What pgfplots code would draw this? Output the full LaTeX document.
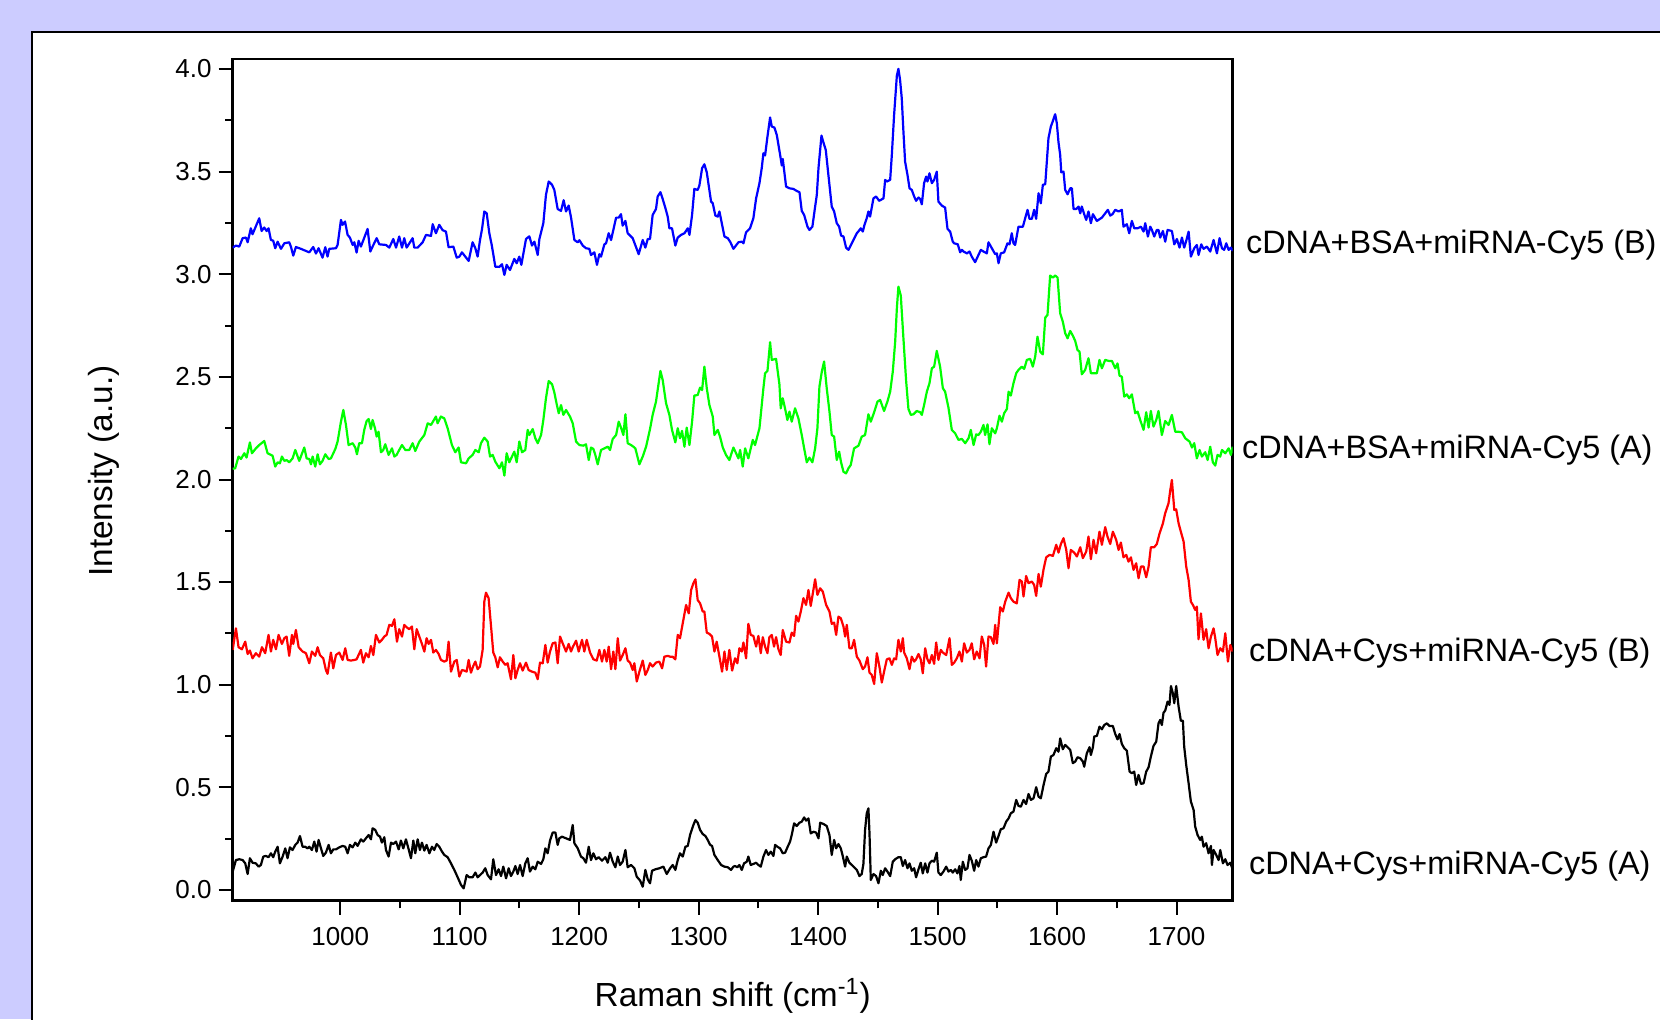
\documentclass[border=0pt]{standalone}
\usepackage{fontspec}
\setmainfont{Liberation Sans}
\usepackage{pgfplots}
\pgfplotsset{compat=1.18}
\definecolor{lavender}{RGB}{204,204,255}
\definecolor{cblue}{RGB}{0,0,255}
\definecolor{cgreen}{RGB}{0,255,0}
\definecolor{cred}{RGB}{255,0,0}

\begin{document}
\begin{tikzpicture}
\useasboundingbox (0,0) rectangle (830pt,509.5pt);
\clip (0,0) rectangle (830pt,509.5pt);
% page background and white panel
\fill[lavender] (0,0) rectangle (830pt,509.5pt);
\fill[white] (16.15pt,-2pt) rectangle (834pt,493.35pt);
\draw[line width=1pt] (16.15pt,-2pt) -- (16.15pt,493.35pt) -- (834pt,493.35pt);

\begin{axis}[
    scale only axis,
    width=500pt, height=420.85pt,
    at={(116.35pt,59.15pt)}, anchor=south west,
    xmin=910, xmax=1747,
    ymin=-0.052, ymax=4.049,
    clip mode=individual,
    axis line style={line width=1.3pt},
    every tick/.style={black, line width=1pt},
    tick align=outside,
    xtick pos=left, ytick pos=left,
    xtick={1000,1100,1200,1300,1400,1500,1600,1700},
    ytick={0,0.5,1,1.5,2,2.5,3,3.5,4},
    minor x tick num=1, minor y tick num=1,
    major tick length=7pt, minor tick length=3.8pt,
    tick label style={font=\fontsize{13pt}{15pt}\selectfont},
    /pgf/number format/assume math mode=true,
    xticklabel style={/pgf/number format/1000 sep={}, yshift=-3pt},
    yticklabel style={/pgf/number format/.cd, fixed, fixed zerofill, precision=1},
    xlabel={Raman shift (cm\textsuperscript{-1})},
    ylabel={Intensity (a.u.)},
    label style={font=\fontsize{16.7pt}{20pt}\selectfont},
    xlabel style={at={(axis description cs:0.5,-0.1132)}, anchor=center},
    ylabel style={at={(axis description cs:-0.1287,0.5105)}, anchor=center},
    every axis plot/.append style={line width=1.1pt, line join=round},
]

% cDNA+BSA+miRNA-Cy5 (B)
\addplot[cblue] coordinates {
(910,3.130) (912.7,3.140) (915.5,3.135) (918.3,3.176) (921.1,3.179) (922.5,3.156) (925.2,3.224) (926.6,3.195)
(932.2,3.273) (934.2,3.211) (936.4,3.228) (938.4,3.211) (940.0,3.224) (942.0,3.167) (943.9,3.164) (945.6,3.127)
(947.6,3.159) (950.4,3.124) (953.2,3.151) (957.3,3.156) (958.7,3.135) (960.7,3.091) (962.9,3.133) (967.1,3.124)
(974.1,3.107) (977.4,3.133) (979.7,3.101) (981.9,3.127) (985.2,3.081) (987.5,3.132) (989.4,3.086) (990.8,3.124)
(996.4,3.127) (997.8,3.143) (1000.6,3.265) (1002.0,3.241) (1004.0,3.257) (1006.2,3.192) (1008.1,3.179) (1010.4,3.143)
(1011.8,3.156) (1013.7,3.106) (1015.4,3.163) (1017.3,3.135) (1022.9,3.221) (1025.2,3.111) (1027.1,3.135) (1030.5,3.176)
(1032.7,3.146) (1038.3,3.143) (1041.1,3.130) (1044.4,3.172) (1046.7,3.130) (1049.4,3.184) (1051.7,3.130) (1053.6,3.176)
(1055.6,3.130) (1060.6,3.176) (1062.0,3.130) (1064.8,3.130) (1069.0,3.156) (1071.8,3.192) (1076.0,3.187) (1077.4,3.244)
(1080.1,3.200) (1082.9,3.241) (1085.7,3.215) (1088.5,3.208) (1090.7,3.132) (1094.7,3.135) (1097.5,3.081) (1099.7,3.086)
(1101.9,3.107) (1107.5,3.065) (1110.8,3.156) (1113.1,3.127) (1115.0,3.086) (1117.0,3.167) (1118.7,3.221) (1120.6,3.306)
(1122.6,3.297) (1124.8,3.200) (1126.8,3.143) (1128.1,3.098) (1129.8,3.037) (1133.2,3.036) (1135.4,3.049) (1137.4,2.997)
(1139.3,3.046) (1142.1,3.021) (1145.7,3.075) (1147.7,3.054) (1149.9,3.086) (1151.6,3.046) (1155.5,3.172) (1158.3,3.185)
(1160.5,3.140) (1162.5,3.159) (1165.3,3.094) (1166.7,3.172) (1170.0,3.249) (1172.2,3.387) (1174.5,3.452) (1177.3,3.436)
(1179.2,3.411) (1182.0,3.318) (1184.8,3.309) (1187.0,3.361) (1189.0,3.306) (1191.2,3.335) (1193.2,3.276) (1196.0,3.167)
(1198.8,3.156) (1200.2,3.166) (1203.0,3.140) (1205.7,3.127) (1208.5,3.124) (1209.9,3.094) (1212.7,3.107) (1214.9,3.046)
(1216.9,3.098) (1218.3,3.086) (1221.1,3.146) (1222.5,3.151) (1224.7,3.200) (1226.7,3.167) (1230.9,3.276) (1233.1,3.276)
(1235.0,3.293) (1236.4,3.237) (1238.7,3.260) (1240.6,3.200) (1244.8,3.176) (1249.8,3.098) (1253.2,3.167) (1255.4,3.130)
(1257.4,3.172) (1259.3,3.172) (1261.5,3.289) (1264.3,3.318) (1265.7,3.379) (1268.0,3.400) (1269.9,3.367) (1272.2,3.322)
(1274.1,3.281) (1275.5,3.224) (1277.7,3.224) (1280.5,3.140) (1282.5,3.179) (1285.3,3.192) (1288.1,3.200) (1290.9,3.224)
(1292.3,3.192) (1294.5,3.289) (1296.4,3.416) (1299.2,3.411) (1300.6,3.432) (1302.9,3.517) (1304.8,3.536) (1306.8,3.497)
(1310.4,3.354) (1311.8,3.346) (1314.0,3.286) (1316.0,3.281) (1317.4,3.306) (1321.6,3.184) (1324.4,3.176) (1326.6,3.156)
(1329.1,3.124) (1333.3,3.156) (1336.1,3.159) (1337.5,3.151) (1339.7,3.205) (1343.0,3.224) (1345.8,3.273) (1348.1,3.370)
(1350.9,3.444) (1352.8,3.517) (1354.2,3.590) (1355.6,3.579) (1357.6,3.671) (1359.8,3.764) (1361.2,3.720) (1363.4,3.715)
(1365.4,3.679) (1368.2,3.582) (1369.6,3.530) (1370.4,3.562) (1373.2,3.427) (1376.0,3.419) (1379.3,3.416) (1382.1,3.406)
(1384.4,3.400) (1386.3,3.309) (1388.3,3.289) (1391.1,3.232) (1392.7,3.216) (1395.2,3.232) (1397.5,3.330) (1398.9,3.387)
(1400.3,3.517) (1402.8,3.676) (1404.4,3.643) (1406.4,3.606) (1408.6,3.484) (1411.4,3.330) (1413.4,3.306) (1415.6,3.249)
(1417.6,3.232) (1419.2,3.189) (1421.2,3.184) (1423.4,3.130) (1425.4,3.119) (1428.2,3.151) (1432.4,3.200) (1434.0,3.211)
(1435.7,3.224) (1437.4,3.208) (1438.8,3.241) (1440.7,3.273) (1442.1,3.306) (1443.5,3.281) (1446.3,3.370) (1448.5,3.379)
(1451.1,3.358) (1454.7,3.370) (1456.1,3.460) (1457.5,3.452) (1460.3,3.460) (1461.7,3.582) (1463.6,3.777) (1465.9,3.968)
(1467.2,4.001) (1468.6,3.947) (1470.0,3.858) (1471.4,3.695) (1472.8,3.549) (1474.8,3.484) (1476.5,3.419) (1478.4,3.411)
(1480.4,3.379) (1482.0,3.358) (1484.0,3.374) (1485.4,3.367) (1486.8,3.341) (1488.7,3.444) (1490.4,3.476) (1491.5,3.452)
(1493.2,3.492) (1495.2,3.444) (1497.1,3.460) (1499.3,3.500) (1500.7,3.354) (1503.5,3.335) (1506.3,3.325) (1508.3,3.221)
(1510.5,3.208) (1512.7,3.159) (1513.9,3.151) (1516.9,3.146) (1518.9,3.107) (1520.3,3.119) (1521.7,3.111) (1524.5,3.102)
(1526.7,3.111) (1528.6,3.086) (1531.4,3.059) (1534.2,3.094) (1536.2,3.119) (1538.4,3.111) (1541.2,3.102) (1542.6,3.156)
(1545.4,3.127) (1548.2,3.098) (1549.6,3.102) (1551.0,3.054) (1552.9,3.102) (1555.7,3.107) (1558.5,3.151) (1560.2,3.146)
(1562.1,3.200) (1563.5,3.151) (1564.9,3.143) (1567.7,3.232) (1571.4,3.232) (1573.3,3.273) (1575.3,3.314) (1576.9,3.270)
(1578.9,3.270) (1580.8,3.314) (1582.5,3.270) (1584.5,3.395) (1586.4,3.346) (1588.1,3.436) (1590.1,3.439) (1592.8,3.663)
(1594.8,3.720) (1596.5,3.747) (1598.4,3.780) (1599.8,3.736) (1601.2,3.643) (1602.6,3.582) (1603.5,3.497) (1605.4,3.500)
(1606.8,3.411) (1608.8,3.390) (1611.0,3.419) (1612.4,3.419) (1613.8,3.318) (1616.0,3.318) (1618.0,3.330) (1619.4,3.297)
(1620.7,3.330) (1622.7,3.293) (1624.4,3.265) (1626.3,3.306) (1628.3,3.249) (1630.0,3.293) (1633.3,3.260) (1637.5,3.276)
(1640.3,3.297) (1642.5,3.314) (1644.5,3.286) (1646.4,3.293) (1648.7,3.314) (1651.5,3.306) (1654.2,3.314) (1655.6,3.232)
(1658.4,3.244) (1660.4,3.200) (1662.6,3.260) (1664.6,3.224) (1667.4,3.224) (1670.2,3.232) (1672.4,3.208) (1673.8,3.249)
(1676.0,3.184) (1678.0,3.232) (1679.4,3.216) (1681.3,3.184) (1683.5,3.216) (1684.9,3.216) (1686.3,3.179) (1688.6,3.211)
(1690.5,3.159) (1692.5,3.216) (1696.1,3.211) (1698.1,3.146) (1700.3,3.172) (1702.5,3.130) (1704.5,3.179) (1706.4,3.130)
(1708.1,3.163) (1710.1,3.208) (1712.0,3.086) (1714.8,3.127) (1717.0,3.143) (1718.4,3.094) (1720.7,3.146) (1722.6,3.124)
(1725.4,3.135) (1728.2,3.111) (1731.0,3.167) (1733.8,3.102) (1736.0,3.176) (1738.0,3.127) (1739.9,3.119) (1741.6,3.151)
(1743.6,3.119) (1745.5,3.130) (1747.0,3.114)
};

% cDNA+BSA+miRNA-Cy5 (A)
\addplot[cgreen] coordinates {
(910,2.052) (912.1,2.055) (914.9,2.112) (916.9,2.100) (919.7,2.128) (921.6,2.107) (924.4,2.181) (926.1,2.128)
(929.4,2.152) (932.2,2.168) (936.4,2.188) (939.2,2.128) (942.0,2.120) (943.4,2.116) (945.6,2.063) (947.6,2.084)
(949.5,2.079) (951.2,2.112) (953.2,2.091) (955.1,2.095) (957.3,2.084) (960.1,2.103) (962.4,2.144) (965.7,2.091)
(969.9,2.156) (971.9,2.103) (974.1,2.100) (975.5,2.074) (976.9,2.112) (979.1,2.063) (981.1,2.123) (983.0,2.074)
(985.2,2.091) (987.5,2.123) (990.3,2.100) (992.2,2.103) (995.9,2.149) (997.8,2.185) (1000.6,2.282) (1002.6,2.339)
(1004.8,2.266) (1007.0,2.168) (1010.4,2.177) (1012.6,2.156) (1014.0,2.123) (1015.9,2.177) (1018.2,2.177) (1020.1,2.242)
(1022.1,2.285) (1023.8,2.295) (1025.7,2.246) (1027.1,2.290) (1029.1,2.250) (1030.5,2.209) (1032.1,2.233) (1034.1,2.133)
(1036.0,2.144) (1037.7,2.172) (1040.5,2.120) (1043.3,2.152) (1045.3,2.112) (1047.2,2.120) (1048.9,2.139) (1051.7,2.168)
(1054.5,2.144) (1057.8,2.144) (1060.6,2.177) (1062.8,2.139) (1066.2,2.185) (1070.4,2.217) (1073.2,2.274) (1076.0,2.266)
(1077.9,2.285) (1080.1,2.307) (1081.5,2.274) (1084.3,2.307) (1087.1,2.298) (1089.9,2.250) (1093.5,2.168) (1096.3,2.133)
(1099.1,2.156) (1101.1,2.084) (1105.3,2.079) (1107.5,2.103) (1110.8,2.120) (1113.1,2.144) (1115.9,2.133) (1117.8,2.177)
(1120.6,2.204) (1123.4,2.185) (1125.4,2.112) (1127.6,2.120) (1129.8,2.087) (1133.2,2.055) (1135.4,2.084) (1137.4,2.019)
(1139.3,2.128) (1141.5,2.084) (1145.7,2.136) (1147.7,2.084) (1149.9,2.185) (1152.2,2.133) (1154.9,2.144) (1156.9,2.242)
(1158.3,2.217) (1161.1,2.246) (1163.3,2.201) (1165.3,2.177) (1168.1,2.217) (1170.0,2.290) (1172.2,2.396) (1174.5,2.480)
(1177.3,2.464) (1179.2,2.425) (1181.2,2.367) (1182.9,2.323) (1184.8,2.363) (1186.8,2.315) (1189.0,2.339) (1192.3,2.307)
(1194.6,2.274) (1197.4,2.185) (1200.2,2.168) (1203.5,2.165) (1205.7,2.172) (1208.0,2.095) (1209.9,2.156) (1211.9,2.149)
(1213.5,2.120) (1215.5,2.074) (1218.3,2.144) (1221.1,2.152) (1223.9,2.160) (1225.8,2.144) (1228.1,2.198) (1230.9,2.217)
(1233.1,2.282) (1235.0,2.253) (1237.0,2.217) (1238.7,2.318) (1240.6,2.177) (1243.4,2.168) (1245.4,2.160) (1247.0,2.152)
(1250.4,2.074) (1253.2,2.112) (1256.0,2.160) (1259.3,2.246) (1261.5,2.315) (1264.3,2.380) (1268.0,2.529) (1269.9,2.485)
(1272.7,2.372) (1275.5,2.315) (1277.7,2.242) (1280.5,2.181) (1282.5,2.250) (1284.4,2.201) (1286.1,2.237) (1288.1,2.160)
(1290.0,2.253) (1292.3,2.168) (1294.5,2.282) (1296.4,2.409) (1299.2,2.412) (1301.2,2.448) (1302.9,2.436) (1304.8,2.550)
(1306.8,2.445) (1309.0,2.363) (1311.8,2.307) (1313.2,2.217) (1316.0,2.242) (1317.9,2.209) (1320.2,2.156) (1322.9,2.120)
(1325.7,2.095) (1329.1,2.156) (1333.3,2.103) (1334.7,2.144) (1336.9,2.063) (1338.9,2.152) (1341.6,2.103) (1345.3,2.193)
(1347.2,2.168) (1350.9,2.250) (1354.2,2.445) (1355.6,2.518) (1357.6,2.529) (1359.8,2.669) (1361.2,2.583) (1364.8,2.588)
(1367.6,2.464) (1368.7,2.347) (1370.4,2.396) (1372.4,2.344) (1374.3,2.290) (1376.0,2.331) (1377.9,2.282) (1380.7,2.347)
(1383.5,2.298) (1386.3,2.217) (1388.3,2.152) (1390.5,2.084) (1392.7,2.107) (1395.2,2.084) (1397.5,2.152) (1399.4,2.250)
(1401.1,2.453) (1403.1,2.526) (1405.0,2.575) (1407.2,2.445) (1409.5,2.331) (1411.4,2.217) (1413.4,2.209) (1415.6,2.095)
(1417.6,2.136) (1419.2,2.084) (1421.2,2.038) (1423.4,2.030) (1425.4,2.055) (1427.3,2.071) (1430.1,2.152) (1433.8,2.165)
(1436.5,2.209) (1439.3,2.217) (1442.1,2.318) (1444.1,2.282) (1446.9,2.328) (1449.7,2.380) (1451.9,2.388) (1455.2,2.334)
(1458.0,2.380) (1460.3,2.428) (1462.5,2.526) (1464.5,2.672) (1465.9,2.834) (1467.2,2.940) (1469.2,2.896) (1471.4,2.688)
(1473.7,2.477) (1475.6,2.344) (1477.6,2.315) (1479.8,2.318) (1482.6,2.334) (1485.4,2.328) (1486.8,2.315) (1488.7,2.363)
(1491.0,2.428) (1493.2,2.469) (1495.2,2.542) (1497.1,2.550) (1499.3,2.627) (1502.1,2.550) (1504.4,2.445) (1506.3,2.428)
(1509.1,2.350) (1511.9,2.242) (1514.7,2.225) (1517.5,2.193) (1520.3,2.198) (1523.1,2.177) (1525.9,2.201) (1527.8,2.242)
(1530.1,2.168) (1532.3,2.220) (1534.2,2.217) (1536.2,2.233) (1538.4,2.266) (1539.8,2.217) (1541.8,2.269) (1543.4,2.172)
(1545.4,2.250) (1548.2,2.225) (1549.6,2.250) (1551.8,2.311) (1553.8,2.282) (1555.7,2.323) (1558.0,2.344) (1559.4,2.428)
(1561.3,2.409) (1563.5,2.469) (1565.8,2.518) (1567.7,2.534) (1570.5,2.550) (1572.5,2.539) (1574.7,2.583) (1577.5,2.588)
(1579.7,2.550) (1581.7,2.599) (1583.6,2.696) (1585.9,2.623) (1588.1,2.610) (1590.1,2.789) (1592.0,2.802) (1594.2,2.994)
(1596.5,2.984) (1598.4,2.994) (1600.4,2.984) (1602.6,2.810) (1604.8,2.769) (1606.8,2.713) (1608.8,2.688) (1611.0,2.724)
(1613.2,2.701) (1615.2,2.675) (1617.1,2.631) (1618.8,2.623) (1620.7,2.513) (1623.5,2.534) (1626.3,2.591) (1628.3,2.518)
(1630.5,2.518) (1633.3,2.518) (1635.5,2.583) (1637.5,2.542) (1640.3,2.583) (1643.1,2.578) (1645.9,2.578) (1648.7,2.542)
(1650.6,2.566) (1652.3,2.506) (1654.2,2.501) (1656.2,2.404) (1658.4,2.415) (1660.4,2.396) (1662.6,2.415) (1665.4,2.323)
(1667.4,2.331) (1669.6,2.290) (1672.4,2.242) (1674.6,2.328) (1676.6,2.253) (1678.5,2.334) (1680.7,2.258) (1683.0,2.290)
(1684.9,2.334) (1687.7,2.217) (1690.5,2.285) (1693.3,2.266) (1696.1,2.315) (1698.9,2.233) (1701.7,2.233) (1704.5,2.230)
(1707.3,2.201) (1710.9,2.185) (1712.9,2.156) (1714.8,2.177) (1717.0,2.103) (1719.3,2.144) (1721.2,2.112) (1724.0,2.133)
(1726.0,2.095) (1728.2,2.160) (1730.4,2.084) (1732.4,2.068) (1734.3,2.120) (1736.6,2.112) (1738.0,2.144) (1740.8,2.128)
(1743.6,2.152) (1745.5,2.120) (1747.0,2.160)
};

% cDNA+Cys+miRNA-Cy5 (B)
\addplot[cred] coordinates {
(910,1.170) (912.7,1.275) (914.9,1.183) (917.7,1.173) (920.5,1.210) (922.5,1.150) (924.4,1.167) (926.6,1.129)
(929.4,1.154) (932.2,1.137) (934.5,1.183) (937.2,1.154) (940.0,1.243) (942.0,1.162) (943.9,1.219) (946.2,1.173)
(948.4,1.243) (951.2,1.199) (953.2,1.227) (955.1,1.235) (957.3,1.141) (959.6,1.243) (960.7,1.199) (962.9,1.267)
(965.2,1.183) (968.5,1.162) (971.3,1.154) (974.1,1.105) (976.3,1.162) (979.1,1.141) (981.1,1.183) (983.0,1.145)
(985.8,1.129) (988.0,1.072) (989.4,1.053) (992.2,1.157) (994.2,1.080) (996.4,1.145) (999.2,1.157) (1002.0,1.121)
(1004.2,1.178) (1006.2,1.121) (1009.0,1.118) (1011.8,1.121) (1013.7,1.124) (1017.3,1.170) (1019.3,1.108) (1021.5,1.154)
(1023.8,1.134) (1025.7,1.189) (1027.7,1.145) (1029.9,1.243) (1032.7,1.206) (1034.9,1.219) (1036.9,1.235) (1038.8,1.243)
(1041.1,1.292) (1043.3,1.287) (1045.3,1.319) (1047.5,1.210) (1049.4,1.271) (1051.7,1.235) (1053.6,1.292) (1055.6,1.280)
(1057.8,1.271) (1060.0,1.284) (1062.0,1.173) (1064.0,1.271) (1066.2,1.235) (1068.4,1.199) (1070.4,1.162) (1072.3,1.227)
(1074.0,1.199) (1076.0,1.219) (1077.9,1.157) (1080.1,1.170) (1082.4,1.150) (1084.3,1.121) (1087.1,1.113) (1089.1,1.118)
(1090.7,1.210) (1092.7,1.064) (1095.5,1.113) (1097.5,1.121) (1099.7,1.040) (1101.9,1.072) (1103.9,1.069) (1105.8,1.064)
(1107.5,1.121) (1109.4,1.059) (1111.4,1.092) (1113.1,1.113) (1115.0,1.076) (1117.0,1.089) (1119.2,1.170) (1120.6,1.405)
(1122.0,1.449) (1124.2,1.422) (1126.2,1.287) (1128.1,1.157) (1129.8,1.134) (1131.8,1.085) (1133.7,1.134) (1136.0,1.113)
(1138.2,1.097) (1140.1,1.105) (1142.9,1.027) (1144.9,1.145) (1146.6,1.032) (1148.5,1.072) (1150.5,1.105) (1152.7,1.069)
(1155.5,1.108) (1157.7,1.072) (1160.5,1.064) (1163.3,1.059) (1165.3,1.027) (1167.2,1.108) (1169.5,1.105) (1171.7,1.194)
(1173.6,1.108) (1175.6,1.162) (1177.8,1.202) (1180.1,1.206) (1182.0,1.105) (1184.0,1.235) (1186.2,1.202) (1189.0,1.162)
(1191.2,1.199) (1193.2,1.162) (1194.6,1.183) (1197.4,1.215) (1199.6,1.162) (1202.4,1.219) (1204.3,1.162) (1206.3,1.219)
(1209.1,1.157) (1211.9,1.124) (1214.7,1.118) (1216.9,1.170) (1219.1,1.113) (1221.1,1.170) (1223.0,1.113) (1224.7,1.186)
(1226.7,1.076) (1228.6,1.162) (1230.3,1.076) (1232.3,1.227) (1234.2,1.118) (1236.4,1.145) (1238.7,1.178) (1240.6,1.118)
(1242.6,1.108) (1244.8,1.072) (1246.2,1.105) (1248.2,1.016) (1250.4,1.064) (1253.2,1.118) (1255.4,1.048) (1257.4,1.072)
(1259.3,1.105) (1261.5,1.089) (1264.3,1.108) (1267.1,1.113) (1269.4,1.080) (1271.3,1.137) (1274.1,1.141) (1276.1,1.137)
(1278.3,1.137) (1280.5,1.124) (1282.5,1.243) (1284.4,1.227) (1287.2,1.316) (1289.5,1.389) (1291.7,1.348) (1293.7,1.462)
(1295.6,1.495) (1297.3,1.514) (1299.2,1.413) (1301.2,1.397) (1303.4,1.357) (1304.8,1.357) (1306.8,1.254) (1309.0,1.248)
(1311.2,1.235) (1313.2,1.162) (1315.1,1.210) (1317.4,1.137) (1319.6,1.064) (1321.6,1.162) (1323.5,1.072) (1325.7,1.170)
(1328.0,1.069) (1330.5,1.129) (1332.4,1.105) (1334.1,1.178) (1336.1,1.162) (1337.5,1.206) (1339.7,1.129) (1341.6,1.297)
(1343.6,1.243) (1345.8,1.238) (1348.1,1.186) (1350.0,1.238) (1352.0,1.154) (1353.7,1.232) (1355.6,1.186) (1357.6,1.154)
(1359.2,1.232) (1361.2,1.243) (1363.1,1.186) (1364.8,1.232) (1366.8,1.173) (1368.7,1.145) (1370.4,1.267) (1373.2,1.210)
(1376.0,1.206) (1377.9,1.254) (1379.9,1.238) (1381.6,1.336) (1383.5,1.308) (1385.5,1.357) (1387.7,1.422) (1389.9,1.389)
(1391.9,1.462) (1393.8,1.384) (1395.5,1.443) (1397.5,1.514) (1399.4,1.438) (1401.7,1.470) (1403.9,1.454) (1406.7,1.389)
(1409.5,1.357) (1411.4,1.297) (1413.4,1.303) (1415.1,1.243) (1417.0,1.332) (1419.0,1.324) (1421.2,1.284) (1422.6,1.235)
(1424.0,1.292) (1426.2,1.178) (1428.2,1.178) (1430.1,1.219) (1432.4,1.137) (1434.6,1.118) (1437.4,1.076) (1439.3,1.089)
(1441.3,1.134) (1443.0,1.059) (1444.9,1.048) (1446.9,1.004) (1449.1,1.154) (1451.3,1.089) (1453.3,1.011) (1455.2,1.064)
(1457.5,1.124) (1459.7,1.129) (1461.7,1.097) (1463.6,1.129) (1465.3,1.124) (1467.2,1.219) (1469.2,1.162) (1470.9,1.227)
(1472.0,1.157) (1474.2,1.129) (1476.5,1.076) (1478.4,1.137) (1480.4,1.113) (1482.0,1.124) (1484.0,1.150) (1485.9,1.124)
(1487.6,1.056) (1489.6,1.178) (1491.5,1.124) (1493.2,1.105) (1495.2,1.145) (1497.1,1.102) (1498.8,1.206) (1500.7,1.121)
(1502.7,1.170) (1504.4,1.157) (1507.2,1.145) (1510.0,1.227) (1511.9,1.097) (1513.9,1.108) (1516.1,1.129) (1518.3,1.162)
(1520.3,1.113) (1522.2,1.202) (1524.5,1.157) (1526.7,1.170) (1528.6,1.202) (1530.6,1.124) (1532.8,1.162) (1535.1,1.129)
(1537.0,1.235) (1539.0,1.194) (1540.6,1.089) (1542.6,1.235) (1544.6,1.232) (1546.8,1.199) (1548.2,1.292) (1549.6,1.202)
(1552.4,1.378) (1554.6,1.357) (1556.6,1.405) (1559.4,1.449) (1561.3,1.422) (1563.5,1.405) (1566.3,1.397) (1568.6,1.511)
(1570.5,1.503) (1571.9,1.430) (1574.1,1.530) (1576.1,1.495) (1578.9,1.503) (1580.8,1.487) (1582.5,1.433) (1584.5,1.540)
(1586.4,1.478) (1588.7,1.563) (1590.9,1.621) (1593.7,1.633) (1596.5,1.628) (1599.3,1.682) (1601.2,1.644) (1603.2,1.686)
(1605.4,1.714) (1607.6,1.660) (1609.6,1.568) (1611.5,1.657) (1614.3,1.644) (1616.6,1.625) (1619.4,1.670) (1621.6,1.617)
(1624.4,1.649) (1626.3,1.722) (1628.3,1.612) (1630.5,1.706) (1632.7,1.641) (1635.5,1.746) (1637.5,1.682) (1640.3,1.768)
(1642.2,1.722) (1644.5,1.686) (1646.7,1.746) (1649.5,1.706) (1651.5,1.657) (1653.4,1.693) (1655.6,1.621) (1657.9,1.633)
(1659.8,1.600) (1661.8,1.621) (1664.0,1.560) (1666.2,1.592) (1668.2,1.519) (1670.2,1.576) (1672.4,1.576) (1674.6,1.524)
(1676.6,1.576) (1678.5,1.670) (1681.3,1.670) (1683.5,1.686) (1685.8,1.738) (1688.6,1.787) (1690.5,1.836) (1693.3,1.885)
(1694.7,1.946) (1696.1,1.998) (1698.1,1.852) (1699.7,1.855) (1701.7,1.787) (1703.6,1.746) (1705.9,1.698) (1708.1,1.576)
(1710.1,1.511) (1712.0,1.405) (1713.7,1.389) (1715.6,1.365) (1717.0,1.381) (1718.4,1.222) (1720.4,1.348) (1722.6,1.219)
(1724.8,1.271) (1726.8,1.178) (1728.8,1.235) (1731.0,1.275) (1732.4,1.227) (1734.3,1.145) (1736.6,1.178) (1738.8,1.162)
(1740.8,1.251) (1743.0,1.113) (1745.0,1.194) (1747.0,1.162)
};

% cDNA+Cys+miRNA-Cy5 (A)
\addplot[black] coordinates {
(910,0.090) (912.7,0.146) (915.5,0.150) (918.3,0.146) (920.5,0.130) (922.5,0.078) (924.4,0.155) (926.6,0.133)
(929.4,0.130) (931.7,0.114) (933.6,0.122) (935.6,0.163) (937.8,0.166) (940.0,0.160) (942.0,0.179) (943.9,0.160)
(945.6,0.187) (947.6,0.211) (949.5,0.130) (951.8,0.163) (954.0,0.203) (955.9,0.155) (957.9,0.208) (960.1,0.195)
(962.4,0.220) (964.3,0.231) (966.3,0.263) (968.5,0.211) (970.7,0.211) (972.7,0.203) (974.1,0.211) (976.3,0.195)
(978.3,0.236) (980.2,0.187) (981.9,0.244) (983.9,0.203) (985.8,0.166) (988.0,0.182) (990.3,0.220) (992.2,0.179)
(994.2,0.198) (996.4,0.198) (999.2,0.208) (1002.0,0.215) (1004.2,0.211) (1006.2,0.179) (1008.1,0.220) (1010.4,0.208)
(1012.6,0.231) (1014.6,0.215) (1017.3,0.247) (1019.3,0.236) (1021.5,0.252) (1023.8,0.268) (1025.7,0.247) (1027.1,0.301)
(1029.3,0.293) (1031.3,0.268) (1033.3,0.260) (1034.9,0.231) (1036.9,0.257) (1038.3,0.195) (1040.5,0.163) (1042.5,0.231)
(1044.4,0.224) (1046.7,0.236) (1048.9,0.198) (1050.8,0.241) (1052.8,0.203) (1055.0,0.247) (1057.3,0.198) (1059.2,0.155)
(1061.2,0.241) (1062.8,0.179) (1064.8,0.247) (1066.7,0.195) (1068.4,0.231) (1070.4,0.192) (1072.3,0.220) (1074.6,0.179)
(1076.8,0.211) (1078.7,0.195) (1080.7,0.224) (1082.9,0.211) (1085.2,0.187) (1087.1,0.171) (1089.9,0.160) (1092.7,0.130)
(1095.5,0.098) (1098.3,0.062) (1101.1,0.025) (1103.3,0.008) (1105.8,0.073) (1108.1,0.062) (1110.8,0.062) (1113.1,0.085)
(1115.0,0.062) (1117.0,0.073) (1119.2,0.085) (1121.4,0.106) (1123.4,0.073) (1126.2,0.052) (1128.1,0.150) (1130.4,0.073)
(1132.6,0.101) (1134.6,0.068) (1136.5,0.114) (1138.8,0.057) (1141.0,0.106) (1142.9,0.068) (1144.9,0.090) (1146.6,0.117)
(1148.5,0.078) (1150.5,0.122) (1152.7,0.068) (1154.9,0.130) (1156.9,0.155) (1158.8,0.090) (1161.1,0.114) (1163.3,0.101)
(1165.3,0.138) (1168.1,0.127) (1170.0,0.150) (1171.7,0.203) (1173.6,0.179) (1175.6,0.241) (1177.8,0.280) (1180.1,0.280)
(1182.0,0.220) (1183.4,0.252) (1185.6,0.260) (1189.0,0.252) (1192.3,0.244) (1194.6,0.317) (1196.0,0.228) (1198.8,0.203)
(1201.5,0.163) (1203.5,0.155) (1205.7,0.133) (1208.0,0.211) (1209.9,0.146) (1211.9,0.179) (1214.1,0.150) (1216.3,0.160)
(1219.1,0.143) (1221.9,0.160) (1223.9,0.133) (1225.8,0.182) (1228.1,0.138) (1230.3,0.111) (1232.3,0.163) (1234.2,0.122)
(1236.4,0.138) (1238.7,0.195) (1240.6,0.111) (1243.4,0.122) (1246.2,0.106) (1248.2,0.065) (1251.0,0.046) (1253.2,0.016)
(1255.4,0.098) (1257.4,0.052) (1259.3,0.033) (1261.0,0.094) (1263.8,0.101) (1267.1,0.106) (1270.5,0.114) (1273.3,0.078)
(1276.1,0.106) (1278.3,0.122) (1280.5,0.098) (1282.5,0.146) (1284.4,0.179) (1286.7,0.163) (1288.9,0.211) (1290.9,0.215)
(1292.8,0.268) (1295.6,0.317) (1297.3,0.341) (1299.2,0.328) (1301.2,0.293) (1303.4,0.273) (1305.7,0.263) (1307.6,0.244)
(1309.6,0.220) (1311.2,0.215) (1313.2,0.171) (1316.0,0.146) (1318.8,0.122) (1321.6,0.114) (1324.4,0.111) (1327.1,0.098)
(1329.1,0.114) (1330.5,0.117) (1332.4,0.111) (1334.1,0.122) (1336.1,0.098) (1338.0,0.130) (1340.3,0.138) (1341.6,0.163)
(1343.6,0.122) (1345.8,0.127) (1348.1,0.133) (1350.0,0.122) (1352.0,0.114) (1354.2,0.163) (1356.4,0.195) (1358.4,0.171)
(1360.4,0.187) (1362.6,0.166) (1364.0,0.220) (1365.9,0.211) (1368.2,0.203) (1370.4,0.179) (1372.4,0.182) (1374.3,0.208)
(1376.5,0.236) (1377.9,0.268) (1379.9,0.325) (1382.1,0.312) (1384.4,0.328) (1386.3,0.333) (1388.3,0.354) (1389.9,0.338)
(1391.9,0.349) (1393.8,0.276) (1396.1,0.284) (1398.3,0.280) (1400.3,0.252) (1401.7,0.328) (1404.4,0.322) (1407.2,0.312)
(1409.5,0.268) (1411.4,0.171) (1413.4,0.244) (1415.1,0.203) (1417.0,0.224) (1419.0,0.203) (1420.6,0.166) (1422.6,0.114)
(1424.0,0.163) (1426.2,0.133) (1428.2,0.122) (1430.1,0.111) (1432.4,0.098) (1434.6,0.068) (1436.5,0.078) (1437.9,0.127)
(1439.3,0.293) (1440.7,0.374) (1442.1,0.398) (1443.0,0.276) (1444.1,0.049) (1446.3,0.078) (1448.5,0.068) (1450.5,0.033)
(1452.5,0.094) (1454.1,0.073) (1456.1,0.106) (1458.0,0.090) (1460.3,0.068) (1462.5,0.138) (1464.5,0.150) (1467.2,0.160)
(1469.2,0.160) (1470.9,0.117) (1472.8,0.146) (1474.8,0.106) (1476.5,0.130) (1478.4,0.094) (1480.4,0.106) (1482.0,0.062)
(1484.0,0.101) (1485.9,0.133) (1487.6,0.081) (1489.6,0.130) (1491.5,0.085) (1493.2,0.130) (1495.2,0.143) (1497.1,0.138)
(1499.3,0.182) (1500.7,0.085) (1502.7,0.073) (1504.9,0.090) (1507.2,0.114) (1509.1,0.090) (1511.1,0.098) (1512.7,0.085)
(1514.7,0.101) (1516.6,0.081) (1518.3,0.117) (1519.4,0.049) (1521.1,0.138) (1523.1,0.098) (1525.0,0.106) (1526.7,0.171)
(1528.6,0.143) (1530.6,0.094) (1532.3,0.146) (1534.2,0.114) (1536.2,0.155) (1538.4,0.160) (1540.6,0.163) (1542.6,0.203)
(1544.6,0.220) (1546.8,0.284) (1549.0,0.231) (1551.0,0.263) (1552.9,0.296) (1555.2,0.301) (1557.4,0.333) (1559.4,0.349)
(1561.3,0.374) (1563.5,0.382) (1565.8,0.439) (1567.7,0.410) (1569.7,0.406) (1571.9,0.439) (1574.1,0.419) (1576.1,0.468)
(1578.1,0.439) (1580.3,0.447) (1582.5,0.501) (1584.5,0.455) (1586.4,0.447) (1588.7,0.512) (1590.9,0.566) (1592.8,0.577)
(1594.8,0.650) (1597.0,0.658) (1599.3,0.691) (1601.2,0.674) (1602.6,0.739) (1604.8,0.686) (1606.8,0.707) (1608.8,0.696)
(1611.0,0.683) (1613.2,0.618) (1615.2,0.626) (1617.1,0.647) (1619.4,0.642) (1621.6,0.626) (1622.7,0.601) (1624.9,0.666)
(1627.2,0.696) (1628.3,0.658) (1630.0,0.696) (1631.1,0.748) (1633.3,0.751) (1635.5,0.796) (1637.5,0.783) (1639.5,0.804)
(1641.7,0.812) (1643.9,0.799) (1646.7,0.799) (1648.7,0.760) (1650.6,0.734) (1652.3,0.760) (1654.2,0.712) (1656.2,0.691)
(1658.4,0.679) (1660.7,0.577) (1662.6,0.569) (1664.6,0.577) (1666.2,0.512) (1668.2,0.561) (1670.2,0.517) (1672.4,0.520)
(1674.6,0.577) (1676.6,0.598) (1678.5,0.650) (1680.7,0.702) (1683.0,0.723) (1684.9,0.812) (1686.3,0.829) (1687.7,0.804)
(1689.1,0.864) (1690.5,0.874) (1692.5,0.918) (1694.1,0.902) (1695.3,0.994) (1696.9,0.959) (1698.1,0.910) (1699.7,0.994)
(1701.7,0.894) (1703.6,0.825) (1705.3,0.825) (1706.4,0.699) (1708.1,0.609) (1710.1,0.520) (1712.0,0.431) (1714.3,0.390)
(1715.6,0.309) (1717.6,0.268) (1719.8,0.244) (1721.2,0.260) (1722.6,0.211) (1724.8,0.228) (1726.8,0.179) (1728.8,0.215)
(1729.6,0.122) (1731.0,0.195) (1733.2,0.171) (1735.2,0.146) (1736.6,0.195) (1738.8,0.130) (1740.8,0.150) (1742.7,0.122)
(1745.0,0.133) (1746.3,0.111) (1747.0,0.130)
};

% series names at the right-hand ends
\begin{scope}[every node/.style={anchor=west, inner sep=0pt,
    font=\fontsize{16.2pt}{19pt}\selectfont}]
\node[xshift=6.5pt] at (axis cs:1747,3.143) {cDNA+BSA+miRNA-Cy5 (B)};
\node[xshift=4.5pt] at (axis cs:1747,2.144) {cDNA+BSA+miRNA-Cy5 (A)};
\node[xshift=8pt] at (axis cs:1747,1.155) {cDNA+Cys+miRNA-Cy5 (B)};
\node[xshift=8pt] at (axis cs:1747,0.117) {cDNA+Cys+miRNA-Cy5 (A)};
\end{scope}
\end{axis}
\end{tikzpicture}
\end{document}
